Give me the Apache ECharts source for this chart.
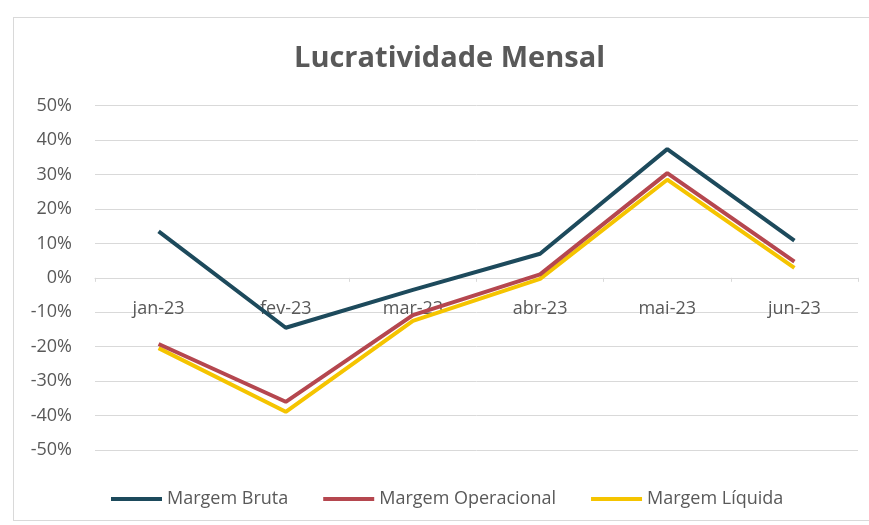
<!DOCTYPE html>
<html>
<head>
<meta charset="utf-8">
<script src="https://cdn.jsdelivr.net/npm/echarts@6/dist/echarts.min.js"></script>
<style>
html,body{margin:0;padding:0;background:#fff;}
#frame{position:absolute;left:13px;top:17px;width:870px;height:504px;border:1px solid #d9d9d9;box-sizing:border-box;}
#chart{position:absolute;left:0;top:0;width:869px;height:525px;}
</style>
</head>
<body>
<div id="frame"></div>
<div id="chart"></div>
<script>
const categories = ['jan-23', 'fev-23', 'mar-23', 'abr-23', 'mai-23', 'jun-23'];
const margemBruta = [13.5, -14.5, -3.5, 7.0, 37.4, 10.8];
const margemOperacional = [-19.2, -36.0, -10.8, 1.0, 30.4, 4.7];
const margemLiquida = [-20.4, -38.9, -12.5, -0.3, 28.5, 2.9];
const yTicks = {min: -50, max: 50, interval: 10};

const chart = echarts.init(document.getElementById('chart'), null, {renderer: 'canvas'});
const txt = '#595959';
const font = 'Open Sans';
const gridTop = 105.7, gridBottom = 75, H = 525;
const plotH = H - gridTop - gridBottom;
// move category axis up to the zero line
const zeroOffset = -plotH * (0 - yTicks.min) / (yTicks.max - yTicks.min);
chart.setOption({
  backgroundColor: 'transparent',
  animation: false,
  title: {
    text: 'Lucratividade Mensal',
    left: 289,
    top: 39,
    textStyle: {fontFamily: font, fontSize: 29, fontWeight: 'bold', color: txt}
  },
  legend: {
    left: 106,
    top: 485,
    itemWidth: 51,
    itemHeight: 4,
    itemGap: 35,
    icon: 'rect',
    textStyle: {fontFamily: font, fontSize: 18, color: txt},
    data: ['Margem Bruta', 'Margem Operacional', 'Margem Líquida']
  },
  grid: {left: 95, right: 11, top: gridTop, bottom: gridBottom, containLabel: false},
  xAxis: {
    type: 'category',
    data: categories,
    boundaryGap: true,
    offset: zeroOffset,
    axisLine: {onZero: false, lineStyle: {color: '#d9d9d9', width: 1}},
    axisTick: {show: true, length: 4, lineStyle: {color: '#d9d9d9'}},
    axisLabel: {margin: 22, fontFamily: font, fontSize: 18, color: txt}
  },
  yAxis: {
    type: 'value',
    min: yTicks.min,
    max: yTicks.max,
    interval: yTicks.interval,
    axisLine: {show: false},
    axisTick: {show: false},
    splitLine: {lineStyle: {color: '#d9d9d9', width: 1}},
    axisLabel: {formatter: '{value}%', margin: 23, fontFamily: font, fontSize: 18, color: txt}
  },
  series: [
    {name: 'Margem Bruta', type: 'line', data: margemBruta, showSymbol: false, symbol: 'none', z: 4,
     color: '#1d4a5c', lineStyle: {width: 4, color: '#1d4a5c'}},
    {name: 'Margem Operacional', type: 'line', data: margemOperacional, showSymbol: false, symbol: 'none', z: 3,
     color: '#b5474f', lineStyle: {width: 4, color: '#b5474f'}},
    {name: 'Margem Líquida', type: 'line', data: margemLiquida, showSymbol: false, symbol: 'none', z: 2,
     color: '#f5c400', lineStyle: {width: 4, color: '#f5c400'}}
  ]
});
</script>
</body>
</html>
